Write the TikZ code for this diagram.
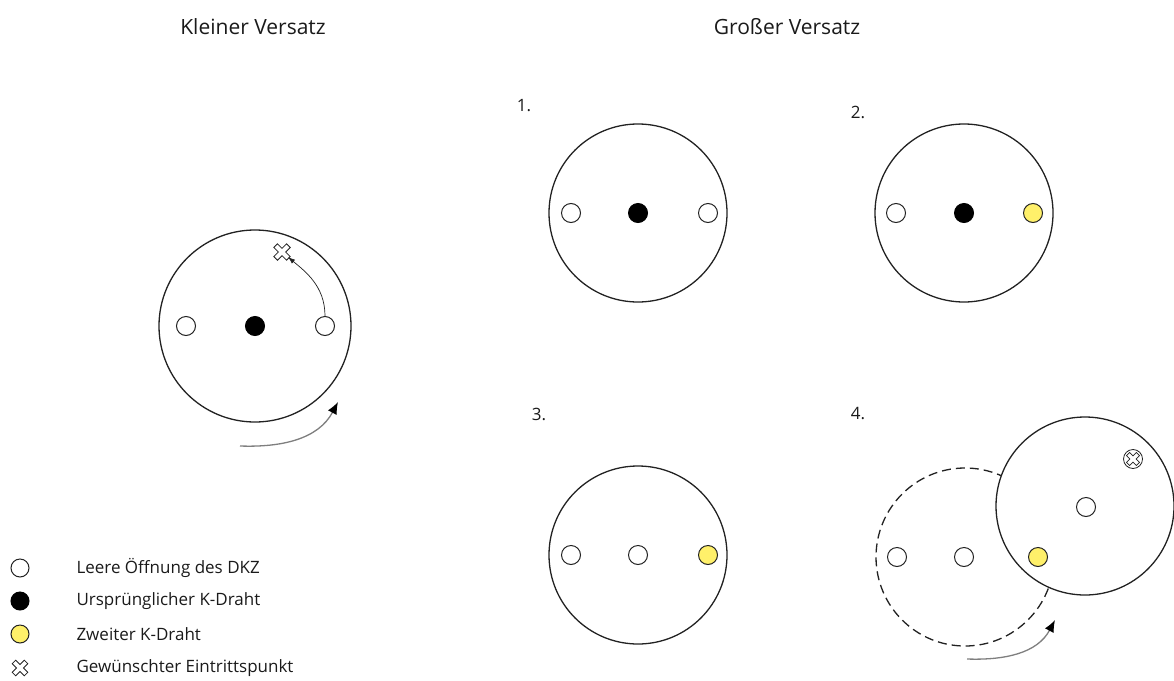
\documentclass[tikz,border=0pt]{standalone}
\usepackage{fontspec}
\setmainfont{Open Sans}
\usetikzlibrary{arrows.meta}
\definecolor{wireyellow}{HTML}{FFF06A}
\definecolor{linegray}{HTML}{222222}
\definecolor{textgray}{HTML}{1A1A1A}
\definecolor{arrowgray}{HTML}{7F7F7F}
\tikzset{
  bigc/.style={circle, draw=linegray, line width=1.3pt, fill=white, minimum size=178pt, inner sep=0pt},
  hole/.style={circle, draw=linegray, line width=1pt, fill=white, minimum size=19pt, inner sep=0pt},
  blackwire/.style={hole, fill=black, draw=black},
  yellowwire/.style={hole, fill=wireyellow},
  title/.style={font=\fontsize{21}{25}\selectfont, text=textgray},
  steplabel/.style={font=\fontsize{17}{20}\selectfont, text=textgray},
  legendtext/.style={font=\fontsize{17}{20}\selectfont, anchor=west, text=textgray},
  turnarrow/.style={draw=arrowgray, line width=1.3pt, -{Latex[length=12pt,width=10pt,color=black,fill=black]}},
  thinarrow/.style={draw=linegray, line width=0.7pt, -{Latex[length=7pt,width=5pt]}},
  pics/xmark/.style={code={
    \draw[linegray, line width=0.8pt, fill=white, rotate=45]
      (2.6,9) -- (-2.6,9) -- (-2.6,2.6) -- (-9,2.6) -- (-9,-2.6) -- (-2.6,-2.6)
      -- (-2.6,-9) -- (2.6,-9) -- (2.6,-2.6) -- (9,-2.6) -- (9,2.6) -- (2.6,2.6) -- cycle;
  }},
  pics/xmarksmall/.style={code={
    \draw[linegray, line width=0.8pt, fill=white] (0,0) circle[radius=9.5];
    \draw[linegray, line width=0.7pt, fill=white, rotate=45]
      (2.2,7) -- (-2.2,7) -- (-2.2,2.2) -- (-7,2.2) -- (-7,-2.2) -- (-2.2,-2.2)
      -- (-2.2,-7) -- (2.2,-7) -- (2.2,-2.2) -- (7,-2.2) -- (7,2.2) -- (2.2,2.2) -- cycle;
  }}
}
\begin{document}
\begin{tikzpicture}[x=1pt, y=-1pt]
\useasboundingbox (0,0) rectangle (1174,680);

% titles
\node[title] (t1) at (253,27) {Kleiner Versatz};
\node[title] (t2) at (787,27) {Großer Versatz};

% ---- Kleiner Versatz ----
\node[bigc, minimum size=192pt] (K) at (255,326) {};
\node[hole] (K1) at (186,326) {};
\node[blackwire] (K2) at (255,326) {};
\node[hole] (K3) at (325,326) {};
\coordinate (KX) at (282,252);
\pic at (KX) {xmark};
\draw[thinarrow, shorten >=8pt] (K3.north) to[out=90, in=-40] (KX);
\coordinate (KA1) at (240,446);
\coordinate (KA2) at (338,402);
\draw[turnarrow] (KA1) to[out=-2, in=-118] (KA2);

% ---- 1 ----
\node[steplabel] (l1) at (524,106) {1.};
\node[bigc] (C1) at (638,213) {};
\node[hole] (C1a) at (571,213) {};
\node[blackwire] (C1b) at (638,213) {};
\node[hole] (C1c) at (708,213) {};

% ---- 2 ----
\node[steplabel] (l2) at (858,112) {2.};
\node[bigc] (C2) at (964,213) {};
\node[hole] (C2a) at (896,213) {};
\node[blackwire] (C2b) at (964,213) {};
\node[yellowwire] (C2c) at (1033,213) {};

% ---- 3 ----
\node[steplabel] (l3) at (539,414) {3.};
\node[bigc] (C3) at (638,555) {};
\node[hole] (C3a) at (571,555) {};
\node[hole] (C3b) at (638,555) {};
\node[yellowwire] (C3c) at (708,555) {};

% ---- 4 ----
\node[steplabel] (l4) at (858,414) {4.};
\node[bigc, dashed, dash pattern=on 9pt off 5pt] (C4d) at (965,557) {};
\node[bigc] (C4) at (1085,506) {};
\node[hole] (C4a) at (897,557) {};
\node[hole] (C4b) at (964,557) {};
\node[yellowwire] (C4c) at (1038,557) {};
\node[hole] (C4e) at (1086,507) {};
\coordinate (C4x) at (1133,459);
\pic at (C4x) {xmarksmall};
\coordinate (A41) at (967,659);
\coordinate (A42) at (1055,620);
\draw[turnarrow] (A41) to[out=-2, in=-118] (A42);

% ---- legend ----
\node[hole, minimum size=18pt] (L1) at (20,568) {};
\node[blackwire, minimum size=18pt] (L2) at (20,601) {};
\node[yellowwire, minimum size=18pt] (L3) at (20,634) {};
\coordinate (L4) at (20,668);
\pic[scale=0.95] at (L4) {xmark};
\node[legendtext] (T1) at (73,568) {Leere Öffnung des DKZ};
\node[legendtext] (T2) at (73,601) {Ursprünglicher K-Draht};
\node[legendtext] (T3) at (73,634) {Zweiter K-Draht};
\node[legendtext] (T4) at (73,668) {Gewünschter Eintrittspunkt};
\end{tikzpicture}
\end{document}
